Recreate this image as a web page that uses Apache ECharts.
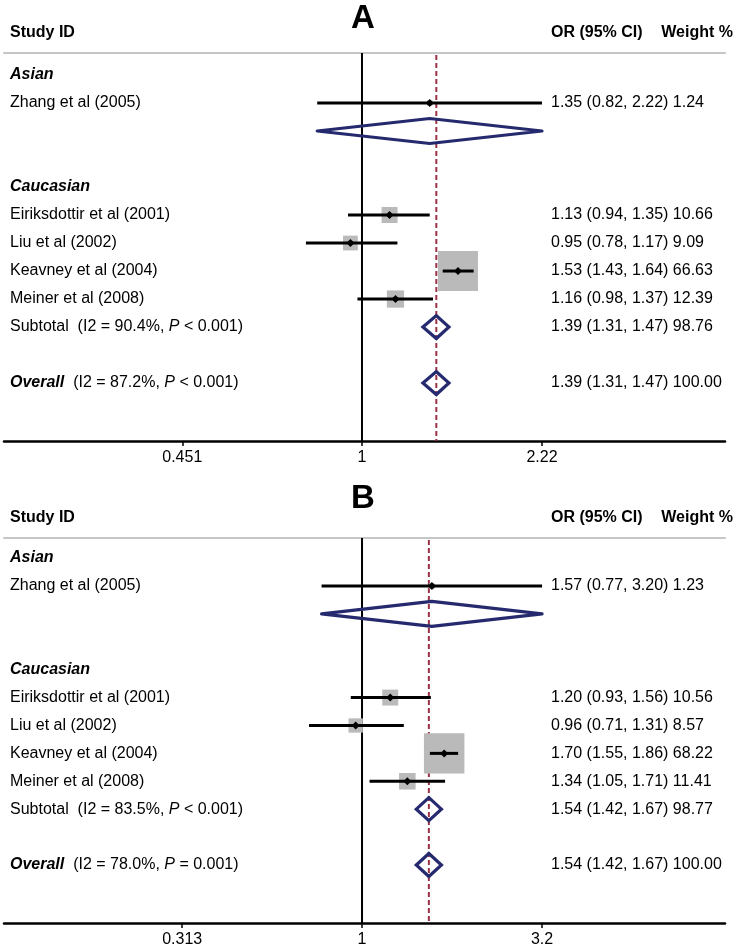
<!DOCTYPE html>
<html><head><meta charset="utf-8">
<script src="https://cdn.jsdelivr.net/npm/echarts@6/dist/echarts.min.js"></script>
<style>html,body{margin:0;padding:0;background:#fff}#c{width:737px;height:950px}</style>
</head><body><div id="c"></div>
<script>
// ---------- data ----------
const panelTitles = ['A', 'B'];
const studyNames = ['Zhang et al (2005)', 'Eiriksdottir et al (2001)', 'Liu et al (2002)', 'Keavney et al (2004)', 'Meiner et al (2008)'];
const groupNames = ['Asian', 'Caucasian'];

// Panel A
const orA = [1.35, 1.13, 0.95, 1.53, 1.16];
const loA = [0.82, 0.94, 0.78, 1.43, 0.98];
const hiA = [2.22, 1.35, 1.17, 1.64, 1.37];
const wA  = ['1.24', '10.66', '9.09', '66.63', '12.39'];
const asianPoolA = [1.35, 0.82, 2.22];
const subtotalA = [1.39, 1.31, 1.47];
const subtotalWA = '98.76';
const overallA = [1.39, 1.31, 1.47];
const overallWA = '100.00';
const hetA = ['90.4%', '< 0.001', '87.2%', '< 0.001'];
const tickValsA = [0.451, 1, 2.22];
const tickLabelsA = ['0.451', '1', '2.22'];
const rangeA = [0.2047, 4.995];

// Panel B
const orB = [1.57, 1.20, 0.96, 1.70, 1.34];
const loB = [0.77, 0.93, 0.71, 1.55, 1.05];
const hiB = [3.20, 1.56, 1.31, 1.86, 1.71];
const wB  = ['1.23', '10.56', '8.57', '68.22', '11.41'];
const asianPoolB = [1.57, 0.77, 3.20];
const subtotalB = [1.54, 1.42, 1.67];
const subtotalWB = '98.77';
const overallB = [1.54, 1.42, 1.67];
const overallWB = '100.00';
const hetB = ['83.5%', '< 0.001', '78.0%', '= 0.001'];
const tickValsB = [0.313, 1, 3.2];
const tickLabelsB = ['0.313', '1', '3.2'];
const rangeB = [0.0990, 10.43];

// ---------- build ----------
const FONT = '"Liberation Sans", Arial, Helvetica, sans-serif';
const FS = 16;
const NAVY = '#252a6e';
const BOXC = '#bababa';
const RED = '#9a3346';
const TEXT_X = 10, OR_X = 551;

function fmt(v) { return v.toFixed(2); }
function orText(p, w) { return fmt(p[0]) + ' (' + fmt(p[1]) + ', ' + fmt(p[2]) + ') ' + w; }

function buildPanel(P) {
  const rows = [];
  rows.push({ row: P.titleRow, kind: 'title', text: P.title });
  rows.push({ row: P.headerRow, kind: 'header' });
  rows.push({ row: 1, kind: 'group', text: groupNames[0] });
  rows.push({ row: 2, kind: 'study', i: 0 });
  rows.push({ row: 3, kind: 'pool', p: P.asianPool });
  rows.push({ row: 5, kind: 'group', text: groupNames[1] });
  for (let i = 1; i < 5; i++) rows.push({ row: 5 + i, kind: 'study', i: i });
  rows.push({ row: 10, kind: 'pool', p: P.subtotal, label: 'sub', w: P.subtotalW });
  rows.push({ row: 12, kind: 'pool', p: P.overall, label: 'overall', w: P.overallW });
  return rows;
}

const panels = [
  { title: panelTitles[0], or: orA, lo: loA, hi: hiA, w: wA, asianPool: asianPoolA, subtotal: subtotalA, subtotalW: subtotalWA,
    overall: overallA, overallW: overallWA, het: hetA, ticks: tickValsA, tickLabels: tickLabelsA, range: rangeA,
    top: 53, height: 388, yMin: 0.214, yMax: 14.07, titleRow: -1.02, headerRow: -0.5 },
  { title: panelTitles[1], or: orB, lo: loB, hi: hiB, w: wB, asianPool: asianPoolB, subtotal: subtotalB, subtotalW: subtotalWB,
    overall: overallB, overallW: overallWB, het: hetB, ticks: tickValsB, tickLabels: tickLabelsB, range: rangeB,
    top: 538, height: 385, yMin: 0.28, yMax: 14.08, titleRow: -1.13, headerRow: -0.44 }
];

const grids = [], xAxes = [], yAxes = [], series = [];
const L = Math.log;

panels.forEach((P, pi) => {
  grids.push({ left: 4, width: 721, top: P.top, height: P.height });
  const tickLn = P.ticks.map(L);
  xAxes.push({
    type: 'value', gridIndex: pi, position: 'bottom', min: L(P.range[0]), max: L(P.range[1]),
    axisLine: { show: true, onZero: false, lineStyle: { color: '#000', width: 2.5 } },
    axisTick: { show: true, customValues: tickLn, length: 5, lineStyle: { color: '#000', width: 1.5 } },
    axisLabel: { show: true, customValues: tickLn, margin: 9, color: '#000', fontSize: 16, fontFamily: FONT,
      formatter: v => { let k = 0, d = 1e9; tickLn.forEach((t, j) => { if (Math.abs(t - v) < d) { d = Math.abs(t - v); k = j; } }); return P.tickLabels[k]; } },
    splitLine: { show: false }
  });
  xAxes.push({
    type: 'value', gridIndex: pi, position: 'top', min: L(P.range[0]), max: L(P.range[1]),
    axisLine: { show: true, onZero: false, lineStyle: { color: '#c6c6c6', width: 2 } },
    axisTick: { show: false }, axisLabel: { show: false }, splitLine: { show: false }
  });
  yAxes.push({ type: 'value', gridIndex: pi, min: P.yMin, max: P.yMax, inverse: true, show: false });

  const rows = buildPanel(P);
  const xIdx = pi * 2;

  series.push({
    type: 'custom', xAxisIndex: xIdx, yAxisIndex: pi, clip: false, silent: true, z: 1,
    data: [[0, 1]],
    renderItem: (params, api) => {
      const cs = params.coordSys;
      const x1 = api.coord([0, 1])[0];
      const xo = api.coord([L(P.overall[0]), 1])[0];
      return { type: 'group', children: [
        { type: 'line', shape: { x1: x1, y1: cs.y, x2: x1, y2: cs.y + cs.height }, style: { stroke: '#000', lineWidth: 2 } },
        { type: 'line', shape: { x1: xo, y1: cs.y + 2, x2: xo, y2: cs.y + cs.height }, style: { stroke: RED, lineWidth: 2, lineDash: [5, 3] } }
      ] };
    }
  });

  series.push({
    type: 'custom', xAxisIndex: xIdx, yAxisIndex: pi, clip: false, silent: true, z: 2,
    data: rows.map((r, k) => [0, r.row, k]),
    renderItem: (params, api) => {
      const r = rows[params.dataIndex];
      const y = api.coord([0, r.row])[1];
      const ch = [];
      const baseStyle = { fill: '#000', fontFamily: FONT, fontSize: FS, verticalAlign: 'middle', align: 'left' };
      if (r.kind === 'title') {
        ch.push({ type: 'text', x: api.coord([0, 0])[0] + 1, y: y, style: Object.assign({}, baseStyle, { text: r.text, fontSize: 33, fontWeight: 'bold', align: 'center' }) });
      } else if (r.kind === 'header') {
        ch.push({ type: 'text', x: TEXT_X, y: y, style: Object.assign({}, baseStyle, { text: 'Study ID', fontWeight: 'bold' }) });
        ch.push({ type: 'text', x: OR_X, y: y, style: Object.assign({}, baseStyle, { text: 'OR (95% CI)', fontWeight: 'bold' }) });
        ch.push({ type: 'text', x: 733, y: y, style: Object.assign({}, baseStyle, { text: 'Weight %', fontWeight: 'bold', align: 'right' }) });
      } else if (r.kind === 'group') {
        ch.push({ type: 'text', x: TEXT_X, y: y, style: Object.assign({}, baseStyle, { text: r.text, fontWeight: 'bold', fontStyle: 'italic' }) });
      } else if (r.kind === 'study') {
        const i = r.i;
        const cx = api.coord([L(P.or[i]), r.row])[0];
        const xl = api.coord([L(P.lo[i]), r.row])[0];
        const xh = api.coord([L(P.hi[i]), r.row])[0];
        const s = 4.9 * Math.sqrt(parseFloat(P.w[i]));
        ch.push({ type: 'rect', shape: { x: cx - s / 2, y: y - s / 2, width: s, height: s }, style: { fill: BOXC } });
        ch.push({ type: 'line', shape: { x1: xl, y1: y, x2: xh, y2: y }, style: { stroke: '#000', lineWidth: 3 } });
        const d = 4;
        ch.push({ type: 'polygon', shape: { points: [[cx - d, y], [cx, y - d], [cx + d, y], [cx, y + d]] }, style: { fill: '#000' } });
        ch.push({ type: 'text', x: TEXT_X, y: y, style: Object.assign({}, baseStyle, { text: studyNames[i] }) });
        ch.push({ type: 'text', x: OR_X, y: y, style: Object.assign({}, baseStyle, { text: orText([P.or[i], P.lo[i], P.hi[i]], P.w[i]) }) });
      } else if (r.kind === 'pool') {
        const cx = api.coord([L(r.p[0]), r.row])[0];
        const xl = api.coord([L(r.p[1]), r.row])[0];
        const xh = api.coord([L(r.p[2]), r.row])[0];
        const h = r.label ? 11.5 : 12.5;
        ch.push({ type: 'polygon', shape: { points: [[xl, y], [cx, y - h], [xh, y], [cx, y + h]] }, style: { fill: 'none', stroke: NAVY, lineWidth: 3.2, lineJoin: r.label ? 'miter' : 'round' } });
        if (r.label === 'sub') {
          ch.push({ type: 'text', x: TEXT_X, y: y, style: Object.assign({}, baseStyle, {
            text: 'Subtotal  (I2 = ' + P.het[0] + ', {i|P} ' + P.het[1] + ')',
            rich: { i: { fontStyle: 'italic', fontFamily: FONT, fontSize: FS, fill: '#000' } } }) });
          ch.push({ type: 'text', x: OR_X, y: y, style: Object.assign({}, baseStyle, { text: orText(r.p, r.w) }) });
        } else if (r.label === 'overall') {
          ch.push({ type: 'text', x: TEXT_X, y: y, style: Object.assign({}, baseStyle, {
            text: '{b|Overall}  (I2 = ' + P.het[2] + ', {i|P} ' + P.het[3] + ')',
            rich: { b: { fontStyle: 'italic', fontWeight: 'bold', fontFamily: FONT, fontSize: FS, fill: '#000' },
                    i: { fontStyle: 'italic', fontFamily: FONT, fontSize: FS, fill: '#000' } } }) });
          ch.push({ type: 'text', x: OR_X, y: y, style: Object.assign({}, baseStyle, { text: orText(r.p, r.w) }) });
        }
      }
      return { type: 'group', children: ch };
    }
  });
});

const chart = echarts.init(document.getElementById('c'), null, { renderer: 'canvas' });
chart.setOption({ animation: false, backgroundColor: '#fff', grid: grids, xAxis: xAxes, yAxis: yAxes, series: series });
</script>
</body></html>
